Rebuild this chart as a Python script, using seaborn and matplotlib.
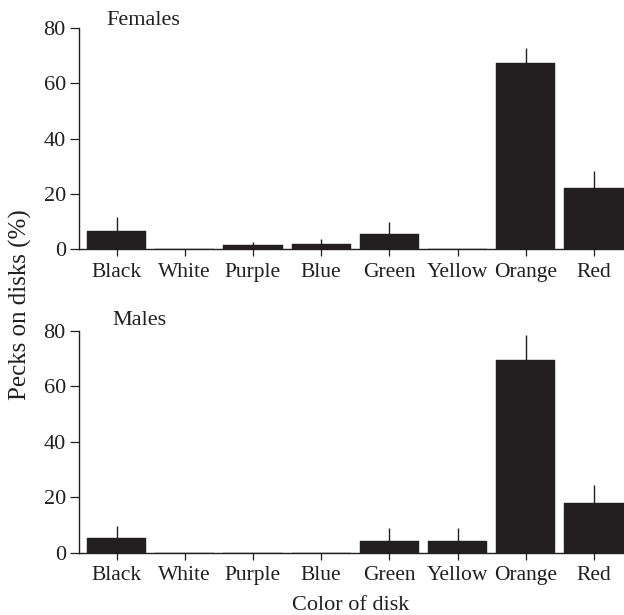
import matplotlib
matplotlib.use("Agg")
import matplotlib.pyplot as plt
import seaborn as sns
import pandas as pd

colors = ["Black", "White", "Purple", "Blue", "Green", "Yellow", "Orange", "Red"]
females_mean = [6.6, 0.0, 1.3, 2.0, 5.5, 0.0, 67.5, 22.0]
females_err = [5.2, 0.0, 1.3, 1.7, 4.4, 0.0, 5.5, 6.2]
males_mean = [5.4, 0.0, 0.0, 0.0, 4.3, 4.3, 69.3, 18.0]
males_err = [4.1, 0.0, 0.0, 0.0, 4.5, 4.5, 9.3, 6.3]
panel_titles = ["Females", "Males"]
yticks = [0, 20, 40, 60, 80]

sns.set_theme(style="ticks")
plt.rcParams["font.family"] = ["Liberation Serif", "DejaVu Serif"]

BAR = "#231f20"
AX = "#231f20"

fig = plt.figure(figsize=(6.24, 6.15), dpi=100)
positions = [
    [0.127, 0.595, 0.873, 0.359],
    [0.127, 0.1013, 0.873, 0.361],
]
title_xy = [(106.6, 20.7), (112.6, 320.7)]
panels = [(females_mean, females_err), (males_mean, males_err)]

for (means, errs), title, pos, txy in zip(panels, panel_titles, positions, title_xy):
    ax = fig.add_axes(pos)
    df = pd.DataFrame({"color": colors, "value": means})
    sns.barplot(data=df, x="color", y="value", order=colors, color=BAR,
                saturation=1, width=0.87, errorbar=None, ax=ax,
                edgecolor=BAR, linewidth=0.3)
    xs = list(range(len(colors)))
    lower = [0] * len(errs)
    ax.errorbar(xs, means, yerr=[lower, errs], fmt="none", ecolor=AX,
                elinewidth=1.0, capsize=0)
    ax.set_xlim(-0.547, 7.44)
    ax.set_ylim(0, 80)
    ax.set_yticks(yticks)
    ax.set_yticklabels([str(t) for t in yticks])
    ax.set_xlabel("")
    ax.set_ylabel("")
    for s in ["top", "right"]:
        ax.spines[s].set_visible(False)
    for s in ["left", "bottom"]:
        ax.spines[s].set_color(AX)
        ax.spines[s].set_linewidth(1.0)
    ax.tick_params(axis="y", direction="out", length=6.7, width=0.9,
                   color=AX, labelsize=16, labelcolor=AX, pad=3.0)
    ax.tick_params(axis="x", direction="out", length=4.8, width=0.9,
                   color=AX, labelsize=15.5, labelcolor=AX, pad=5.0)
    ax.patch.set_alpha(0)
    fig.text(txy[0] / 624, 1 - txy[1] / 615, title, fontsize=16,
             color=AX, ha="left", va="center")

fig.text(20 / 624, 1 - 305 / 615, "Pecks on disks (%)", rotation=90,
         fontsize=18, color=AX, ha="center", va="center")
fig.text(351 / 624, 1 - 605 / 615, "Color of disk", fontsize=16,
         color=AX, ha="center", va="center")

fig.savefig("out.png", dpi=100)
